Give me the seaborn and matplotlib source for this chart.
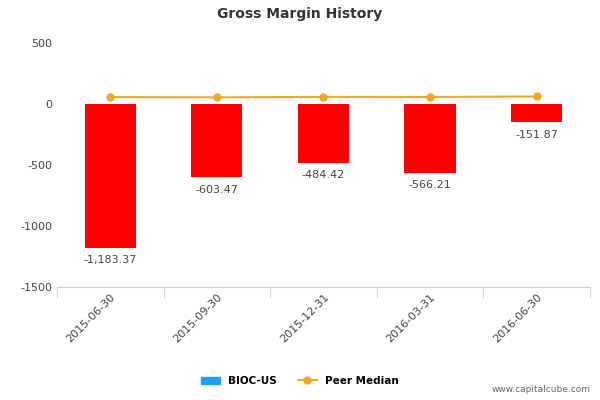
import matplotlib
matplotlib.use("Agg")
import matplotlib.pyplot as plt
import seaborn as sns
import pandas as pd
from matplotlib.patches import Patch
from matplotlib.lines import Line2D

dates = ["2015-06-30", "2015-09-30", "2015-12-31", "2016-03-31", "2016-06-30"]
bioc = [-1183.37, -603.47, -484.42, -566.21, -151.87]
peer = [55, 53, 57, 56, 60]
labels = ["-1,183.37", "-603.47", "-484.42", "-566.21", "-151.87"]

df = pd.DataFrame({"date": dates, "bioc": bioc, "peer": peer})

fig = plt.figure(figsize=(6, 4), dpi=100)
ax = fig.add_axes([0.095, 0.283, 0.888, 0.61])
sns.barplot(data=df, x="date", y="bioc", color="#ff0000", width=0.48, ax=ax, saturation=1)
ax.plot(range(len(dates)), peer, color="#f5a623", marker="o", markersize=5, linewidth=1.5)
for i, (v, t) in enumerate(zip(bioc, labels)):
    ax.text(i, v - 60, t, ha="center", va="top", fontsize=8, color="#444444")
ax.set_ylim(-1500, 500)
ax.set_xlim(-0.5, 4.5)
ax.set_yticks([-1500, -1000, -500, 0, 500])
ax.set_yticklabels(["-1500", "-1000", "-500", "0", "500"])
ax.set_xlabel(""); ax.set_ylabel("")
for s in ["top", "right", "left"]:
    ax.spines[s].set_visible(False)
ax.spines["bottom"].set_color("#c0d0e0")
ax.tick_params(axis="y", length=0, labelsize=8, colors="#444444")
ax.tick_params(axis="x", labelsize=8, colors="#444444", color="#c0d0e0", length=8)
ax.set_xticks([x + 0.5 for x in range(-1, 5)], minor=True)
ax.tick_params(axis="x", which="minor", length=8, color="#c0d0e0")
ax.tick_params(axis="x", which="major", length=0)
plt.setp(ax.get_xticklabels(), rotation=45, ha="right", rotation_mode="anchor")
fig.text(0.5, 0.955, "Gross Margin History", ha="center", fontsize=10, fontweight="bold", color="#333333")
handles = [Patch(color="#1aa3f0"), Line2D([], [], color="#f5a623", marker="o", markersize=5)]
fig.legend(handles, ["BIOC-US", "Peer Median"], loc="center", bbox_to_anchor=(0.5, 0.048), ncol=2,
           frameon=False, prop={"size": 7.5, "weight": "bold"}, handlelength=1.8, columnspacing=2)
fig.text(0.985, 0.02, "www.capitalcube.com", ha="right", fontsize=6.5, color="#666666")
fig.savefig("out.png", dpi=100)
